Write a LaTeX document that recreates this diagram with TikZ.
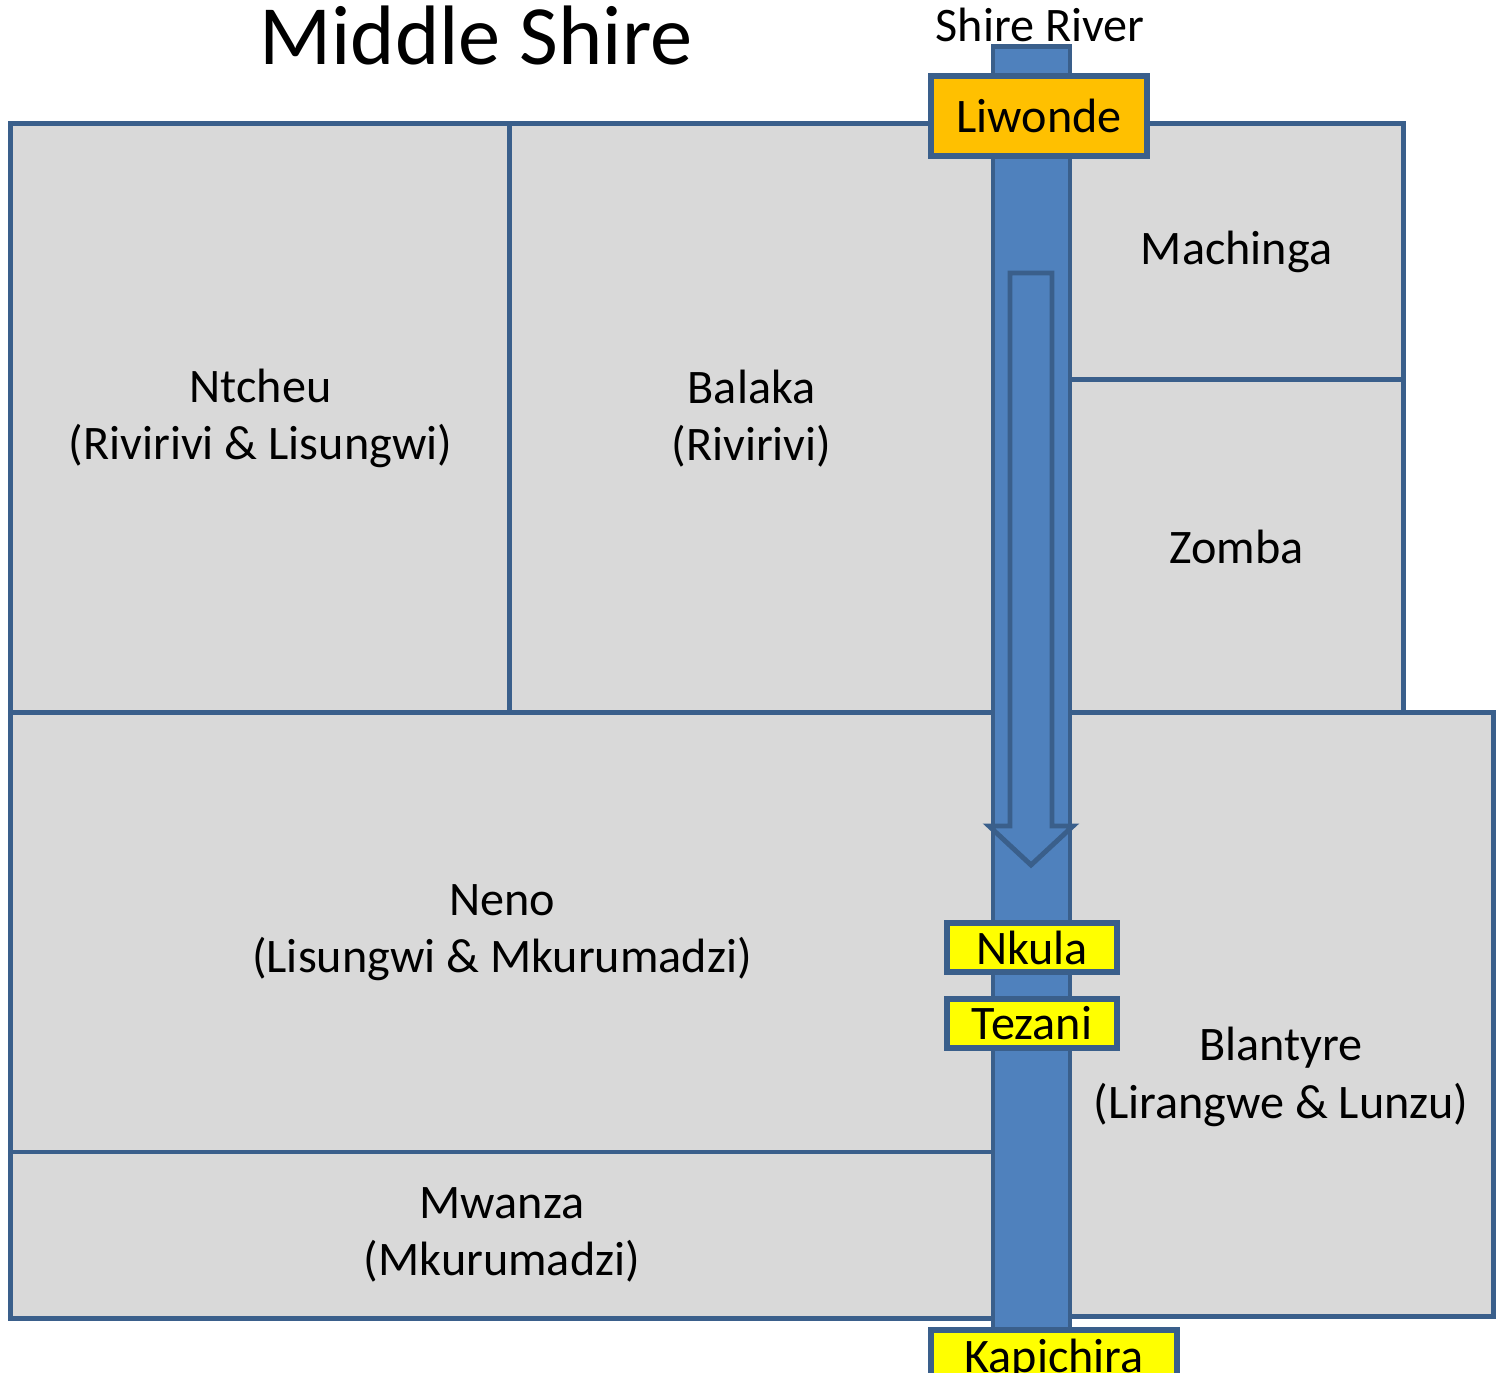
\documentclass[tikz,border=0pt]{standalone}
\usepackage{fontspec}
\setmainfont{Carlito}
\usetikzlibrary{positioning}
\definecolor{edgeblue}{HTML}{3A5F8B}
\definecolor{regiongray}{HTML}{D9D9D9}
\definecolor{riverblue}{HTML}{4F81BD}
\definecolor{damorange}{HTML}{FFC000}
\definecolor{damyellow}{HTML}{FFFF00}
\begin{document}
\begin{tikzpicture}[x=0.01cm,y=-0.01cm,
    region/.style={draw=edgeblue,fill=regiongray,line width=1.4pt,inner sep=0pt,align=center,font=\fontsize{13.7pt}{16.3pt}\selectfont},
    regiontext/.style={align=center,inner sep=0pt,font=\fontsize{13.7pt}{16.3pt}\selectfont},
    river/.style={draw=edgeblue,fill=riverblue,line width=1.4pt,inner sep=0pt},
    dam/.style={draw=edgeblue,line width=1.5pt,inner sep=0pt,font=\fontsize{13.7pt}{16.3pt}\selectfont}]

    \useasboundingbox (0,0) rectangle (1500,1373);

    % districts
    \node[region,minimum width=4.99cm,minimum height=5.89cm] (ntcheu) at (260.5,418.5) {Ntcheu\\(Rivirivi \& Lisungwi)};
    \node[region,minimum width=4.83cm,minimum height=5.89cm] (balaka) at (751.5,418.5) {Balaka\\(Rivirivi)};
    \node[region,minimum width=3.33cm,minimum height=2.56cm] (machinga) at (1236.5,252) {Machinga};
    \node[region,minimum width=3.33cm,minimum height=3.33cm] (zomba) at (1236.5,546.5) {Zomba};
    \node[region,minimum width=9.82cm,minimum height=4.39cm] (neno) at (502,932.5) {Neno\\(Lisungwi \& Mkurumadzi)};
    \node[region,minimum width=9.82cm,minimum height=1.66cm] (mwanza) at (502,1235) {Mwanza\\(Mkurumadzi)};
    \node[region,minimum width=4.23cm,minimum height=6.03cm] (blantyre) at (1281.5,1014.5) {};
    \node[regiontext] (blantyretext) at (1281,1077) {Blantyre\\(Lirangwe \& Lunzu)};

    % river and flow
    \node[river,minimum width=0.77cm,minimum height=12.83cm] (river) at (1031.5,688.5) {};
    \draw[river] (1010,273) -- (1052,273) -- (1052,826) -- (1073,826) -- (1031,865)
        -- (989,826) -- (1010,826) -- cycle;

    % dams
    \node[dam,fill=damorange,minimum width=2.16cm,minimum height=0.80cm] (liwonde) at (1039,116) {Liwonde};
    \node[dam,fill=damyellow,minimum width=1.70cm,minimum height=0.49cm] (nkula) at (1032,947.5) {Nkula};
    \node[dam,fill=damyellow,minimum width=1.70cm,minimum height=0.49cm] (tezani) at (1032,1023.5) {Tezani};
    \node[dam,fill=damyellow,minimum width=2.46cm,minimum height=0.60cm] (kapichira) at (1054,1360) {Kapichira};

    % titles
    \node[anchor=base,inner sep=0pt,font=\fontsize{24pt}{28pt}\selectfont] (title) at (476,65) {Middle Shire};
    \node[anchor=base,inner sep=0pt,font=\fontsize{13.7pt}{16.3pt}\selectfont] (rivername) at (1040,42) {Shire River};

\end{tikzpicture}
\end{document}
